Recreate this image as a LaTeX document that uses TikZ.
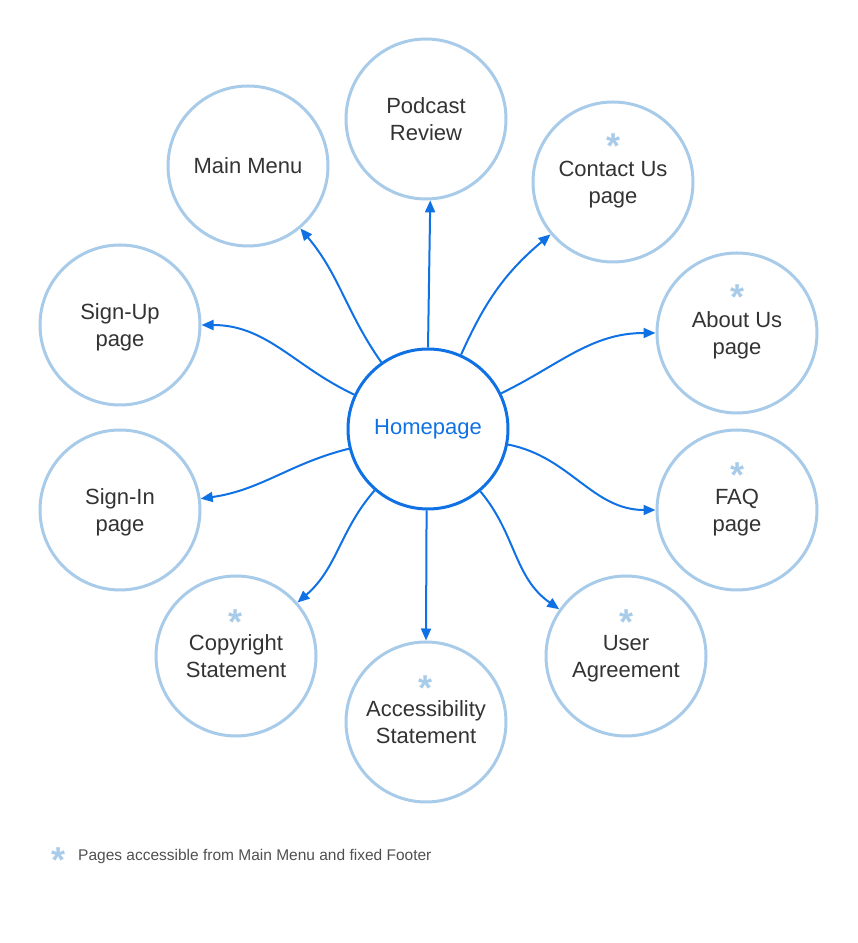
\documentclass[tikz,border=0pt]{standalone}
\usepackage{fontspec}
\setmainfont{Liberation Sans}
\usetikzlibrary{arrows.meta}
\definecolor{pageblue}{RGB}{168,203,233}
\definecolor{homeblue}{RGB}{16,113,229}
\definecolor{labelgray}{RGB}{51,51,51}
\definecolor{notegray}{RGB}{80,80,80}
\newcommand{\starglyph}{\raisebox{-0.5em}[0.17em][0.17em]{*}}
\tikzset{
	sitemap/.style = {
		x=1pt, y=1pt, >={Triangle[length=12pt,width=10pt]},
		font=\fontsize{22}{27}\selectfont,
	},
	circlebase/.style = {
		circle, line width=3pt, minimum size=160pt,
		inner sep=0pt, align=center,
	},
	pagecircle/.style = {circlebase, draw=pageblue, text=labelgray, text depth=0pt},
	homecircle/.style = {circlebase, draw=homeblue, text=homeblue},
	link/.style = {->, draw=homeblue, line width=2pt},
	starmark/.style = {
		font=\fontsize{36}{36}\selectfont\bfseries, text=pageblue,
		inner sep=0pt,
	},
}

\begin{document}
\begin{tikzpicture}[sitemap]
	\useasboundingbox (0,0) rectangle (858,943);

	\node[homecircle] (home) at (428,514) {Homepage};
	\node[pagecircle] (podcast) at (426,824) {Podcast\\Review};
	\node[pagecircle] (mainmenu) at (248,777) {Main Menu};
	\node[pagecircle] (contact) at (613,761) {Contact Us\\page};
	\node[pagecircle] (signup) at (120,618) {Sign-Up\\page};
	\node[pagecircle] (about) at (737,610) {About Us\\page};
	\node[pagecircle] (signin) at (120,433) {Sign-In\\page};
	\node[pagecircle] (faq) at (737,433) {FAQ\\page};
	\node[pagecircle] (copyright) at (236,287) {Copyright\\Statement};
	\node[pagecircle] (agreement) at (626,287) {User\\Agreement};
	\node[pagecircle] (access) at (426,221) {Accessibility\\Statement};

	\node[starmark] (contactstar) at ([yshift=41pt]contact.center) {\starglyph};
	\node[starmark] (aboutstar) at ([yshift=41pt]about.center) {\starglyph};
	\node[starmark] (faqstar) at ([yshift=40pt]faq.center) {\starglyph};
	\node[starmark] (copyrightstar) at ([yshift=39pt]copyright.center) {\starglyph};
	\node[starmark] (agreementstar) at ([yshift=39pt]agreement.center) {\starglyph};
	\node[starmark] (accessstar) at ([yshift=39pt]access.center) {\starglyph};

	\draw[link] (home.90) -- (podcast.-87);
	\draw[link] (home.125) to[out=125,in=-50] (mainmenu.-50);
	\draw[link] (home.66) to[out=66,in=220] (contact.220);
	\draw[link] (home.155) to[out=155,in=0] (signup.0);
	\draw[link] (home.26) to[out=26,in=180] (about.180);
	\draw[link] (home.194) to[out=194,in=8] (signin.8);
	\draw[link] (home.-11) to[out=-11,in=180] (faq.180);
	\draw[link] (home.229) to[out=229,in=41] (copyright.41);
	\draw[link] (home.-50) to[out=-50,in=145] (agreement.145);
	\draw[link] (home.-91) -- (access.90);

	\node[starmark] (notestar) at (59,88) {\starglyph};
	\node[anchor=base west, inner sep=0pt, text=notegray,
		font=\fontsize{15.5}{18}\selectfont] (note) at (78,82)
		{Pages accessible from Main Menu and fixed Footer};
\end{tikzpicture}
\end{document}
